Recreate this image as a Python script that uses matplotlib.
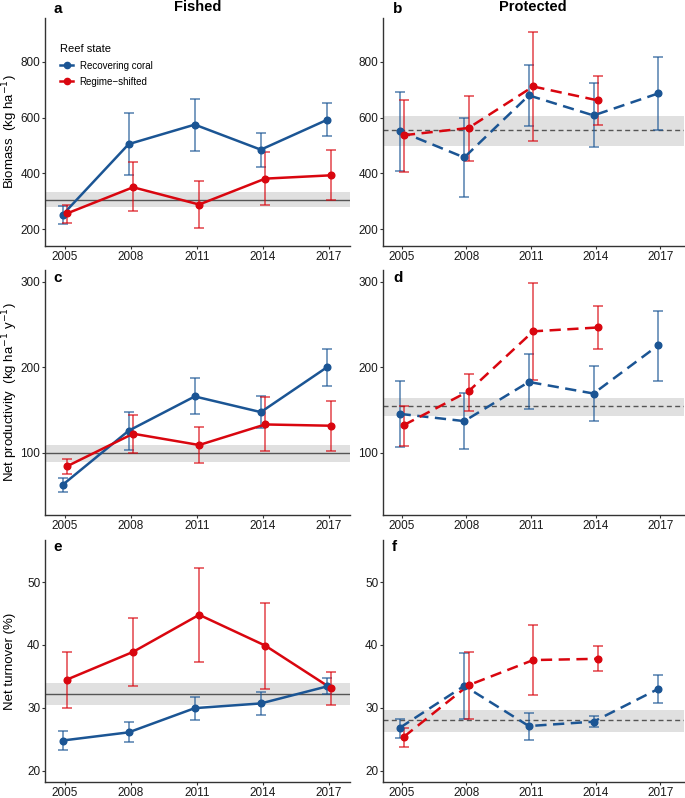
import numpy as np
import matplotlib.pyplot as plt
from matplotlib.lines import Line2D

plt.rcParams["font.family"] = ["Liberation Sans", "DejaVu Sans"]

years = [2005, 2008, 2011, 2014, 2017]
years_rs_prot = [2005, 2008, 2011, 2014]

# biomass, fished
bio_f_rec = [251, 505, 575, 485, 592]
bio_f_rec_lo = [218, 394, 480, 423, 533]
bio_f_rec_hi = [283, 615, 668, 545, 652]
bio_f_rs = [256, 350, 288, 381, 393]
bio_f_rs_lo = [220, 263, 205, 285, 304]
bio_f_rs_hi = [285, 439, 372, 477, 484]
# biomass, protected
bio_p_rec = [552, 457, 680, 608, 687]
bio_p_rec_lo = [407, 315, 571, 493, 555]
bio_p_rec_hi = [693, 600, 788, 723, 819]
bio_p_rs = [537, 563, 712, 662]
bio_p_rs_lo = [405, 444, 515, 574]
bio_p_rs_hi = [665, 679, 909, 749]

# net productivity, fished
prod_f_rec = [62.8, 126, 166, 147.7, 200]
prod_f_rec_lo = [55, 103.5, 145, 128.7, 178]
prod_f_rec_hi = [71, 148, 187.6, 166, 221.7]
prod_f_rs = [84.5, 122.5, 109.3, 133.3, 131.8]
prod_f_rs_lo = [75.6, 99.6, 88.4, 102, 102.7]
prod_f_rs_hi = [92.6, 144.2, 130.2, 165, 160.9]
# net productivity, protected
prod_p_rec = [145.7, 137.2, 182.9, 169.4, 225.6]
prod_p_rec_lo = [107, 104.7, 151.2, 137.2, 184.1]
prod_p_rec_hi = [184.5, 170, 215, 201, 266.3]
prod_p_rs = [132.6, 172, 242, 246.5]
prod_p_rs_lo = [108, 148.8, 185.7, 221]
prod_p_rs_hi = [155.4, 192.6, 298.8, 271.7]

# net turnover, fished
turn_f_rec = [24.8, 26.1, 29.95, 30.7, 33.4]
turn_f_rec_lo = [23.3, 24.6, 28.0, 28.9, 32.2]
turn_f_rec_hi = [26.3, 27.8, 31.8, 32.5, 34.7]
turn_f_rs = [34.5, 38.9, 44.8, 39.9, 33.1]
turn_f_rs_lo = [30.0, 33.5, 37.3, 33.0, 30.4]
turn_f_rs_hi = [38.9, 44.3, 52.2, 46.7, 35.7]
# net turnover, protected
turn_p_rec = [26.8, 33.5, 27.1, 27.8, 33.0]
turn_p_rec_lo = [25.2, 28.3, 24.9, 26.9, 30.8]
turn_p_rec_hi = [28.3, 38.7, 29.1, 28.7, 35.2]
turn_p_rs = [25.4, 33.6, 37.6, 37.8]
turn_p_rs_lo = [23.8, 28.3, 32.0, 35.8]
turn_p_rs_hi = [26.8, 38.9, 43.1, 39.8]

# reference mean and interval (grey band) per panel
bio_f_ref = [306, 278, 333]
bio_p_ref = [554, 500, 607]
prod_f_ref = [99.6, 89.5, 108.9]
prod_p_ref = [154.3, 143, 164.7]
turn_f_ref = [32.2, 30.5, 34.0]
turn_p_ref = [28.0, 26.2, 29.6]

BLUE = "#1B5594"
RED = "#D9060F"
dodge = 0.1
W, H = 685, 798


def draw_series(ax, x, y, lo, hi, color, ls):
    x = np.array(x, dtype=float)
    y = np.array(y)
    err = [y - np.array(lo), np.array(hi) - y]
    ax.errorbar(x, y, yerr=err, fmt="none", ecolor=color, elinewidth=1.1,
                capsize=3.5, capthick=1.1, alpha=0.75, zorder=3)
    if ls == "dashed":
        ax.plot(x, y, color=color, lw=1.8, dashes=(4.5, 2.6), zorder=4)
    else:
        ax.plot(x, y, color=color, lw=1.8, zorder=4)
    ax.plot(x, y, "o", color=color, ms=4.8, zorder=5)


def style_axis(ax, ylim, yticks):
    ax.set_ylim(*ylim)
    ax.set_xticks(years)
    ax.set_yticks(yticks)
    for s in ["top", "right"]:
        ax.spines[s].set_visible(False)
    for s in ["left", "bottom"]:
        ax.spines[s].set_color("#333333")
        ax.spines[s].set_linewidth(1.0)
    ax.tick_params(labelsize=8.5, length=2.2, pad=1.2, color="#333333",
                   labelcolor="#1a1a1a")


def ref_band(ax, ref, ls):
    ax.axhspan(ref[1], ref[2], color="#e0e0e0", lw=0, zorder=1)
    if ls == "dashed":
        ax.axhline(ref[0], color="#555555", lw=1.0, dashes=(3.6, 2.4), zorder=2)
    else:
        ax.axhline(ref[0], color="#555555", lw=1.0, zorder=2)


fig = plt.figure(figsize=(W / 100, H / 100), dpi=100)
# axes boxes in pixels: (left, right), (top, bottom)
cols_px = [(45, 350), (383, 684)]
rows_px = [(18, 246), (270, 515), (540, 782)]
axes = []
for (t, b) in rows_px:
    row = []
    for (l, r) in cols_px:
        row.append(fig.add_axes([l / W, 1 - b / H, (r - l) / W, (b - t) / H]))
    axes.append(row)

panels = [
    (bio_f_rec, bio_f_rec_lo, bio_f_rec_hi, bio_f_rs, bio_f_rs_lo, bio_f_rs_hi, bio_f_ref,
     bio_p_rec, bio_p_rec_lo, bio_p_rec_hi, bio_p_rs, bio_p_rs_lo, bio_p_rs_hi, bio_p_ref,
     (139, 958), [200, 400, 600, 800], "Biomass  (kg ha$^{-1}$)"),
    (prod_f_rec, prod_f_rec_lo, prod_f_rec_hi, prod_f_rs, prod_f_rs_lo, prod_f_rs_hi, prod_f_ref,
     prod_p_rec, prod_p_rec_lo, prod_p_rec_hi, prod_p_rs, prod_p_rs_lo, prod_p_rs_hi, prod_p_ref,
     (27.6, 313.6), [100, 200, 300], "Net productivity  (kg ha$^{-1}$ y$^{-1}$)"),
    (turn_f_rec, turn_f_rec_lo, turn_f_rec_hi, turn_f_rs, turn_f_rs_lo, turn_f_rs_hi, turn_f_ref,
     turn_p_rec, turn_p_rec_lo, turn_p_rec_hi, turn_p_rs, turn_p_rs_lo, turn_p_rs_hi, turn_p_ref,
     (18.2, 56.7), [20, 30, 40, 50], "Net turnover (%)"),
]

for r, p in enumerate(panels):
    (fr, frl, frh, fs, fsl, fsh, fref, pr, prl, prh, ps, psl, psh, pref, ylim, yt, ylab) = p
    ax = axes[r][0]
    ref_band(ax, fref, "solid")
    draw_series(ax, np.array(years) - dodge, fr, frl, frh, BLUE, "solid")
    draw_series(ax, np.array(years) + dodge, fs, fsl, fsh, RED, "solid")
    style_axis(ax, ylim, yt)
    ax.set_xlim(2004.1, 2017.95)
    t, b = rows_px[r]
    fig.text(10 / W, 1 - (t + b) / 2 / H, ylab, rotation=90, fontsize=9.5,
             ha="center", va="center")

    ax = axes[r][1]
    ref_band(ax, pref, "dashed")
    draw_series(ax, np.array(years) - dodge, pr, prl, prh, BLUE, "dashed")
    draw_series(ax, np.array(years_rs_prot) + dodge, ps, psl, psh, RED, "dashed")
    style_axis(ax, ylim, yt)
    ax.set_xlim(2004.13, 2018.1)

# panel tags, in pixel positions (left, top)
tags = [("a", 53, 2), ("b", 393, 2), ("c", 53, 271), ("d", 393, 271),
        ("e", 53, 540), ("f", 392, 540)]
for letter, x, y in tags:
    fig.text(x / W, 1 - y / H, letter, fontsize=11, fontweight="bold",
             ha="left", va="top")

fig.text(198 / W, 1 - 7 / H, "Fished", fontsize=10.5, fontweight="bold",
         ha="center", va="center")
fig.text(533 / W, 1 - 7 / H, "Protected", fontsize=10.5, fontweight="bold",
         ha="center", va="center")

handles = [Line2D([], [], color=BLUE, lw=1.8, marker="o", ms=4.5),
           Line2D([], [], color=RED, lw=1.8, marker="o", ms=4.5)]
axes[0][0].legend(handles, ["Recovering coral", "Regime\u2212shifted"],
                  loc="upper left", bbox_to_anchor=(0.05, 0.885), frameon=False,
                  title="Reef state", fontsize=7, title_fontsize=8,
                  handlelength=1.3, handletextpad=0.7, labelspacing=0.65,
                  borderpad=0, borderaxespad=0, alignment="left")

fig.savefig("out.png", dpi=100)
